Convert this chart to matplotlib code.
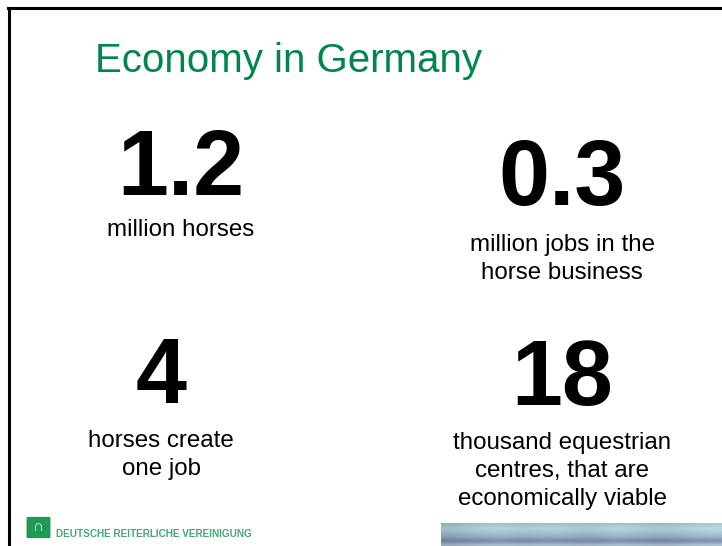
import numpy as np
import matplotlib
matplotlib.use("Agg")
import matplotlib.pyplot as plt
from matplotlib.patches import FancyBboxPatch

W, H = 722, 546

title = "Economy in Germany"
figures = ["1.2", "0.3", "4", "18"]
captions = ["million horses",
            "million jobs in the\nhorse business",
            "horses create\none job",
            "thousand equestrian\ncentres, that are\neconomically viable"]
logo_text = "DEUTSCHE REITERLICHE VEREINIGUNG"

# slide layout in pixels: centre x, number baseline, first caption baseline
num_x = [181, 562, 161, 562]
num_base = [195, 205, 403, 405]
cap_base = [236, 251, 447, 449]
line_gap = 28

plt.rcParams["font.family"] = ["Liberation Sans", "DejaVu Sans"]
fig = plt.figure(figsize=(W / 100, H / 100), dpi=100)
fig.patch.set_facecolor("white")


def fx(x):
    return x / W


def fy(y):
    return 1 - y / H


# black frame on the left and top
fig.add_artist(plt.Line2D([fx(9), fx(9)], [fy(8), 0], color="black", lw=2.2))
fig.add_artist(plt.Line2D([fx(8), 1], [fy(8), fy(8)], color="black", lw=2.2))

fig.text(fx(95), fy(72), title, color="#00864a", fontsize=29,
         ha="left", va="baseline")

for n, c, x, nb, cb in zip(figures, captions, num_x, num_base, cap_base):
    fig.text(fx(x), fy(nb), n, fontsize=66, fontweight="bold",
             ha="center", va="baseline")
    for i, line in enumerate(c.split("\n")):
        fig.text(fx(x), fy(cb + i * line_gap), line, fontsize=17.4,
                 ha="center", va="baseline")

# logo, bottom left
fig.add_artist(FancyBboxPatch((fx(28), fy(537)), fx(21), 19 / H,
                              boxstyle="round,pad=0.002", fc="#1e9a55",
                              ec="none", transform=fig.transFigure))
fig.text(fx(38.5), fy(527), "\u2229", color="white", fontsize=11,
         fontweight="bold", ha="center", va="center")
fig.text(fx(56), fy(534), logo_text, color="#45a874", fontsize=7.2,
         fontweight="bold", ha="left", va="center")

# banner image, bottom right
ax = fig.add_axes([fx(441), 0, 1 - fx(441), 23 / H])
ax.axis("off")
rows = np.array([[0.62, 0.74, 0.78], [0.70, 0.82, 0.86], [0.66, 0.78, 0.83],
                 [0.60, 0.72, 0.78], [0.56, 0.66, 0.74], [0.45, 0.47, 0.62],
                 [0.66, 0.74, 0.80]])
cols = np.array([0.92, 1.0, 1.04, 0.98, 1.03, 1.0, 0.97, 1.05, 1.0, 0.96,
                 1.02, 1.06])
img = np.clip(rows[:, None, :] * cols[None, :, None], 0, 1)
ax.imshow(img, aspect="auto", interpolation="bicubic")

fig.savefig("out.png", dpi=100)
